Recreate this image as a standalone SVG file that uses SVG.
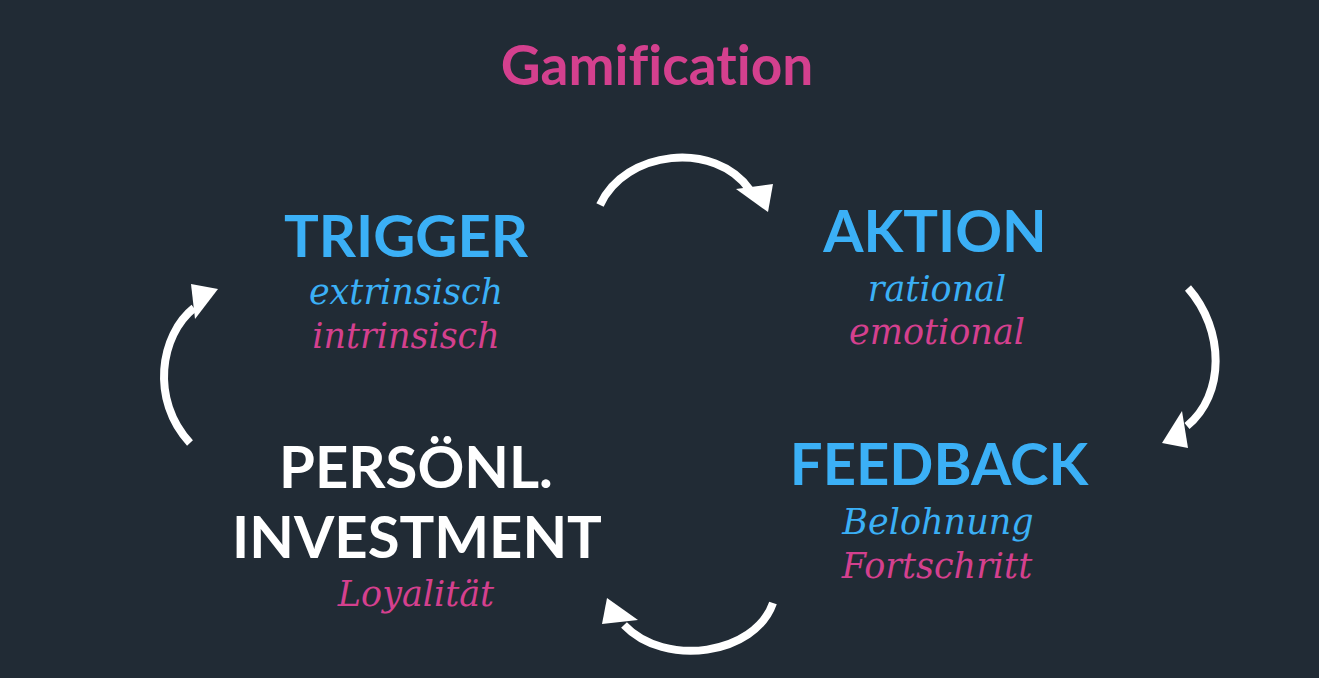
<svg xmlns="http://www.w3.org/2000/svg" width="1319" height="678" viewBox="0 0 1319 678">
<style>
.h{font-family:Lato,"Open Sans",sans-serif;font-weight:700;text-anchor:middle;font-size:58px;font-variant-ligatures:none}
.s{font-family:"DejaVu Serif","Liberation Serif",serif;font-style:italic;font-size:35px;text-anchor:middle}
.b{fill:#3bb0f6}.p{fill:#d4408e}.w{fill:#ffffff}
.arc{fill:none;stroke:#ffffff;stroke-width:8}
.head{fill:#ffffff}
</style>
<rect width="1319" height="678" fill="#212b35"/>
<g id="title"><text class="h p" x="657" y="85" style="font-size:55px">Gamification</text></g>
<g id="trigger">
<text class="h b" x="406" y="257">TRIGGER</text>
<text class="s b" x="406" y="304">extrinsisch</text>
<text class="s p" x="406" y="348">intrinsisch</text>
</g>
<g id="aktion">
<text class="h b" x="935" y="252">AKTION</text>
<text class="s b" x="937" y="301">rational</text>
<text class="s p" x="937" y="344">emotional</text>
</g>
<g id="feedback">
<text class="h b" x="939" y="485">FEEDBACK</text>
<text class="s b" x="938" y="534">Belohnung</text>
<text class="s p" x="937" y="578">Fortschritt</text>
</g>
<g id="investment">
<text class="h w" x="416" y="488">PERSÖNL.</text>
<text class="h w" x="417" y="558">INVESTMENT</text>
<text class="s p" x="416" y="606">Loyalität</text>
</g>
<g id="connectors">
<path class="arc" d="M600,205 C625,150 715,140 750,190"/>
<polygon class="head" points="736,189 773,184 768,212"/>
<path class="arc" d="M1188,288 C1225,330 1225,395 1187,426"/>
<polygon class="head" points="1182,411 1162,443 1188,448"/>
<path class="arc" d="M773,603 C755,655 665,668 624,625"/>
<polygon class="head" points="607,598 602,624 638,620"/>
<path class="arc" d="M190,443 C150,400 160,335 194,308"/>
<polygon class="head" points="191,284 218,289 195,319"/>
</g>
</svg>
